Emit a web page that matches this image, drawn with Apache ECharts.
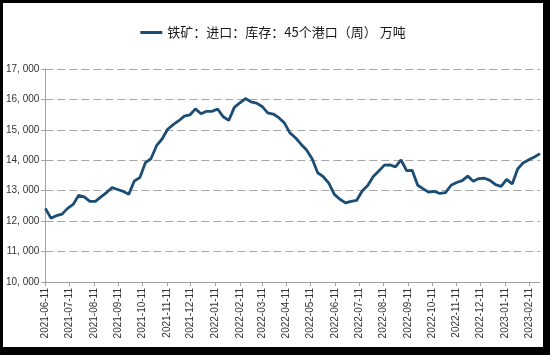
<!DOCTYPE html>
<html>
<head>
<meta charset="utf-8">
<script src="https://cdn.jsdelivr.net/npm/echarts@6/dist/echarts.min.js"></script>
<style>
html,body{margin:0;padding:0;background:#000;width:550px;height:355px;overflow:hidden;}
#c{position:absolute;left:3px;top:3px;width:540px;height:344px;background:#fff;}
</style>
</head>
<body>
<div id="c"></div>
<script>
var seriesName = '铁矿：进口：库存：45个港口（周） 万吨';
var startDate = '2021-06-11';   // first weekly observation (Friday)
var endDate = '2023-02-24';     // last weekly observation
var stockValues = [
  12420, 12100, 12180, 12230, 12420, 12550, 12850, 12800, 12650, 12650,
  12800, 12940, 13100, 13040, 12980, 12880, 13320, 13430, 13920, 14050,
  14480, 14700, 15020, 15170, 15300, 15450, 15490, 15690, 15530, 15610,
  15610, 15680, 15430, 15310, 15740, 15890, 16030, 15920, 15880, 15770,
  15560, 15520, 15400, 15230, 14900, 14740, 14530, 14340, 14050, 13590,
  13460, 13250, 12880, 12720, 12600, 12650, 12680, 12990, 13170, 13470,
  13650, 13840, 13850, 13780, 14010, 13660, 13670, 13180, 13060, 12950,
  12980, 12910, 12940, 13180, 13270, 13330, 13480, 13310, 13400, 13410,
  13340, 13200, 13140, 13370, 13220, 13720, 13920, 14020, 14110, 14220
];
var tickLabels = [
  '2021-06-11','2021-07-11','2021-08-11','2021-09-11','2021-10-11','2021-11-11',
  '2021-12-11','2022-01-11','2022-02-11','2022-03-11','2022-04-11','2022-05-11',
  '2022-06-11','2022-07-11','2022-08-11','2022-09-11','2022-10-11','2022-11-11',
  '2022-12-11','2023-01-11','2023-02-11'
];
var yMin = 10000, yMax = 17000, yStep = 1000;

var DAY = 86400000;
function parseD(s){ var p = s.split('-'); return Date.UTC(+p[0], +p[1]-1, +p[2]) / DAY; }
function pad(n){ return n < 10 ? '0' + n : '' + n; }
function fmtD(dayNum){ var d = new Date(Math.round(dayNum) * DAY); return d.getUTCFullYear() + '-' + pad(d.getUTCMonth()+1) + '-' + pad(d.getUTCDate()); }

var startDay = parseD(startDate);
var data = stockValues.map(function(v, i){ return [startDay + 7*i, v]; });
var tickDays = tickLabels.map(parseD);

var chart = echarts.init(document.getElementById('c'), null, {renderer:'canvas'});
chart.setOption({
  animation: false,
  backgroundColor: '#fff',
  legend: {
    top: 18, left: 'center',
    itemWidth: 22, itemHeight: 3, itemGap: 6,
    textStyle: {fontFamily: 'Noto Sans CJK SC', fontSize: 13, color: '#1a1a1a'},
    data: [{name: seriesName, icon: 'rect'}]
  },
  grid: {left: 40, right: 3, top: 66, bottom: 65, containLabel: false},
  xAxis: {
    type: 'value',
    min: startDay, max: parseD(endDate),
    axisLine: {show: true, lineStyle: {color: '#a0a0a0', width: 1}},
    axisTick: {show: true, length: 4, lineStyle: {color: '#a0a0a0'}, customValues: tickDays},
    axisLabel: {
      customValues: tickDays,
      rotate: 90, margin: 6,
      fontFamily: 'Liberation Sans', fontSize: 10, color: '#333',
      formatter: function(v){ return fmtD(v); }
    },
    splitLine: {show: false}
  },
  yAxis: {
    type: 'value', min: yMin, max: yMax, interval: yStep,
    axisLine: {show: true, lineStyle: {color: '#a0a0a0', width: 1}},
    axisTick: {show: true, length: 4, lineStyle: {color: '#a0a0a0'}},
    axisLabel: {
      margin: 6, fontFamily: 'Liberation Sans', fontSize: 10, color: '#333',
      formatter: function(v){ return v.toString().replace(/\B(?=(\d{3})+(?!\d))/g, ', '); }
    },
    splitLine: {show: true, lineStyle: {color: '#a6a6a6', type: [8, 4], width: 1}}
  },
  series: [{
    name: seriesName,
    type: 'line',
    data: data,
    symbol: 'none',
    lineStyle: {color: '#1b4d75', width: 2.8},
    itemStyle: {color: '#1b4d75'}
  }]
});
</script>
</body>
</html>
